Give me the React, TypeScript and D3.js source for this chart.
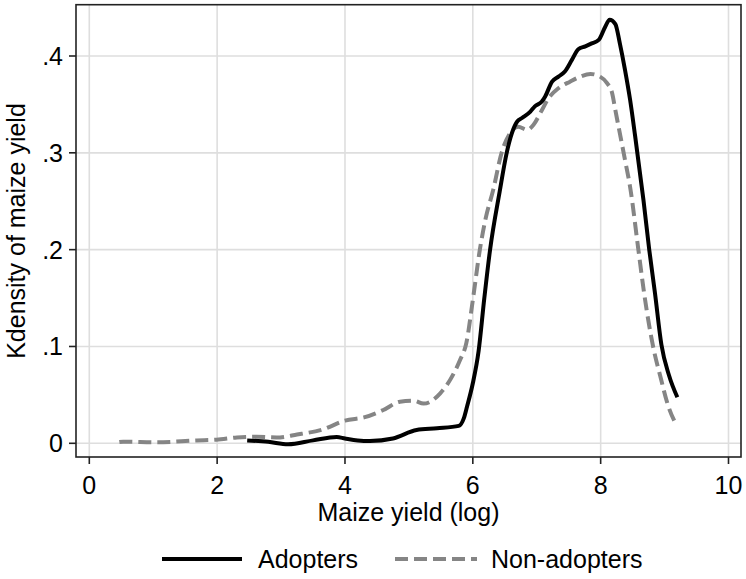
import React from "react";
import * as d3 from "d3";

const xTicks = [0, 2, 4, 6, 8, 10];
const yTicks = [0, 0.1, 0.2, 0.3, 0.4];
const yTickLabels = ["0", ".1", ".2", ".3", ".4"];

const adoptersX = [2.47, 2.8, 3.11, 3.5, 3.87, 4.0, 4.2, 4.39, 4.75, 5.12, 5.44, 5.78, 5.86, 5.91, 6.0, 6.09, 6.18, 6.27, 6.42, 6.53, 6.61, 6.69, 6.77, 6.9, 6.97, 7.08, 7.13, 7.24, 7.34, 7.44, 7.55, 7.65, 7.76, 7.86, 7.97, 8.07, 8.14, 8.23, 8.3, 8.38, 8.46, 8.54, 8.67, 8.76, 8.85, 8.95, 9.07, 9.2];
const adoptersY = [0.003, 0.0015, -0.001, 0.003, 0.0065, 0.005, 0.003, 0.0024, 0.005, 0.0137, 0.0155, 0.018, 0.026, 0.038, 0.062, 0.095, 0.15, 0.2, 0.26, 0.3, 0.32, 0.332, 0.336, 0.3426, 0.348, 0.353, 0.358, 0.3735, 0.3787, 0.384, 0.396, 0.407, 0.41, 0.413, 0.4166, 0.43, 0.4375, 0.433, 0.413, 0.386, 0.355, 0.317, 0.251, 0.2, 0.155, 0.102, 0.07, 0.0475];

const nonAdoptersX = [0.47, 0.53, 1.05, 1.68, 1.99, 2.31, 2.62, 2.93, 3.25, 3.66, 4.0, 4.31, 4.6, 4.86, 5.07, 5.23, 5.49, 5.7, 5.8, 5.9, 6.0, 6.11, 6.2, 6.32, 6.45, 6.58, 6.71, 6.85, 6.95, 7.08, 7.18, 7.34, 7.52, 7.68, 7.84, 7.99, 8.1, 8.18, 8.23, 8.28, 8.38, 8.46, 8.59, 8.68, 8.82, 8.93, 9.06, 9.17];
const nonAdoptersY = [0.0013, 0.0017, 0.001, 0.003, 0.0037, 0.006, 0.0068, 0.006, 0.009, 0.0145, 0.0234, 0.027, 0.0344, 0.043, 0.044, 0.041, 0.0516, 0.072, 0.086, 0.104, 0.148, 0.2, 0.232, 0.262, 0.3, 0.32, 0.327, 0.3237, 0.329, 0.344, 0.356, 0.3667, 0.3735, 0.3787, 0.3815, 0.3787, 0.372, 0.3616, 0.344, 0.327, 0.293, 0.265, 0.2, 0.155, 0.1, 0.07, 0.038, 0.0207];

const W = 746;
const H = 579;
const frame = { left: 76, right: 741, top: 4.7, bottom: 457 };
const FONT = "'Liberation Sans', Arial, sans-serif";
const FS = 25;

export default function App() {
  const x = d3.scaleLinear().domain([0, 10]).range([89.3, 728.5]);
  const y = d3.scaleLinear().domain([0, 0.4]).range([443.3, 56]);

  const line = d3
    .line<[number, number]>()
    .x((d) => x(d[0]))
    .y((d) => y(d[1]))
    .curve(d3.curveMonotoneX);

  const adopters = adoptersX.map((v, i) => [v, adoptersY[i]] as [number, number]);
  const nonAdopters = nonAdoptersX.map((v, i) => [v, nonAdoptersY[i]] as [number, number]);

  const gridColor = "#dedede";
  const dashColor = "#858585";

  return (
    <svg
      width={W}
      height={H}
      style={{ position: "absolute", left: 0, top: 0, background: "#fff" }}
      fontFamily={FONT}
    >
      <rect x={0} y={0} width={W} height={H} fill="#fff" />
      {xTicks.map((t) => (
        <line key={"gx" + t} x1={x(t)} x2={x(t)} y1={frame.top} y2={frame.bottom} stroke={gridColor} strokeWidth={1.6} />
      ))}
      {yTicks.map((t) => (
        <line key={"gy" + t} x1={frame.left} x2={frame.right} y1={y(t)} y2={y(t)} stroke={gridColor} strokeWidth={1.6} />
      ))}
      <path d={line(nonAdopters) || ""} fill="none" stroke={dashColor} strokeWidth={4} strokeDasharray="13 6" />
      <path d={line(adopters) || ""} fill="none" stroke="#000" strokeWidth={4} strokeLinejoin="round" />
      <rect
        x={frame.left}
        y={frame.top}
        width={frame.right - frame.left}
        height={frame.bottom - frame.top}
        fill="none"
        stroke="#222"
        strokeWidth={1.6}
      />
      {xTicks.map((t) => (
        <g key={"xt" + t}>
          <line x1={x(t)} x2={x(t)} y1={frame.bottom} y2={frame.bottom + 7} stroke="#222" strokeWidth={1.6} />
          <text x={x(t)} y={494} textAnchor="middle" fontSize={FS} fill="#000">
            {t}
          </text>
        </g>
      ))}
      {yTicks.map((t, i) => (
        <g key={"yt" + t}>
          <line x1={frame.left - 7} x2={frame.left} y1={y(t)} y2={y(t)} stroke="#222" strokeWidth={1.6} />
          <text x={63} y={y(t)} dy="0.36em" textAnchor="end" fontSize={FS} fill="#000">
            {yTickLabels[i]}
          </text>
        </g>
      ))}
      <text x={408.5} y={521} textAnchor="middle" fontSize={FS} fill="#000">
        Maize yield (log)
      </text>
      <text transform="translate(25,231) rotate(-90)" textAnchor="middle" fontSize={FS} fill="#000">
        Kdensity of maize yield
      </text>
      <line x1={162} x2={242} y1={559} y2={559} stroke="#000" strokeWidth={4} />
      <text x={258} y={568} fontSize={FS} fill="#000">
        Adopters
      </text>
      <line x1={395} x2={477} y1={559} y2={559} stroke={dashColor} strokeWidth={4} strokeDasharray="13 6" />
      <text x={491} y={568} fontSize={FS} fill="#000">
        Non-adopters
      </text>
    </svg>
  );
}
